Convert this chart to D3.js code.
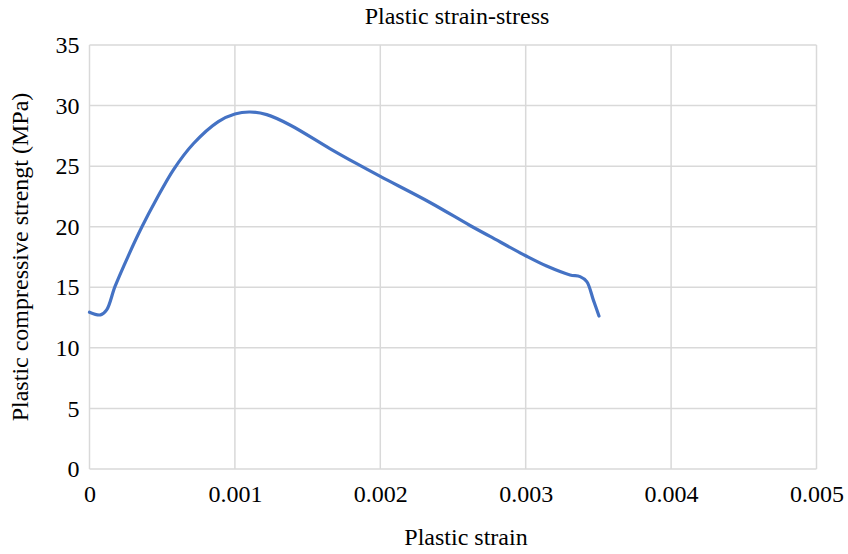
<!DOCTYPE html>
<html><head><meta charset="utf-8">
<script src="https://cdn.jsdelivr.net/npm/d3@7"></script>
<style>body{margin:0;background:#fff}svg{display:block}text{font-family:"Liberation Serif","Times New Roman",serif;fill:#000}</style>
</head><body><svg id="c" width="848" height="554"></svg>
<script>
const strain = [0, 0.0000756, 0.000118, 0.000175, 0.000267, 0.000359, 0.000462, 0.000577, 0.000714, 0.000886, 0.001, 0.001104, 0.001219, 0.001379, 0.001653, 0.001838, 0.002, 0.002342, 0.002617, 0.002755, 0.003, 0.003144, 0.003305, 0.003374, 0.00342, 0.003465, 0.003504];
const stress = [12.94, 12.72, 13.13, 15.05, 17.6, 19.95, 22.3, 24.7, 26.85, 28.68, 29.31, 29.47, 29.25, 28.4, 26.45, 25.2, 24.15, 22.0, 20.1, 19.2, 17.6, 16.75, 16.02, 15.88, 15.47, 13.96, 12.63];
const xTicks = [0, 0.001, 0.002, 0.003, 0.004, 0.005];
const xTickLabels = ["0", "0.001", "0.002", "0.003", "0.004", "0.005"];
const yTicks = [0, 5, 10, 15, 20, 25, 30, 35];
const title = "Plastic strain-stress";
const xTitle = "Plastic strain";
const yTitle = "Plastic compressive strengt (MPa)";

const svg = d3.select("#c");
const m = {l: 89.5, r: 31.5, t: 45, b: 85};
const W = 848, H = 554;
const x = d3.scaleLinear().domain([0, 0.005]).range([m.l, W - m.r]);
const y = d3.scaleLinear().domain([0, 35]).range([H - m.b, m.t]);
const fs = 24;

// grid
svg.append("g").selectAll("line").data(yTicks).join("line")
  .attr("x1", m.l).attr("x2", W - m.r).attr("y1", d => y(d)).attr("y2", d => y(d))
  .attr("stroke", "#d9d9d9").attr("stroke-width", 1.5);
svg.append("g").selectAll("line").data(xTicks).join("line")
  .attr("y1", m.t).attr("y2", H - m.b).attr("x1", d => x(d)).attr("x2", d => x(d))
  .attr("stroke", "#d9d9d9").attr("stroke-width", 1.5);

// axes labels
const yAxis = d3.axisLeft(y).tickValues(yTicks).tickSize(0).tickPadding(10);
const gy = svg.append("g").attr("transform", `translate(${m.l},0)`).call(yAxis);
gy.select(".domain").remove();
gy.selectAll("text").style("font-size", fs + "px").style("font-family", "Liberation Serif");

const xAxis = d3.axisBottom(x).tickValues(xTicks).tickFormat((d, i) => xTickLabels[i]).tickSize(0).tickPadding(16);
const gx = svg.append("g").attr("transform", `translate(0,${H - m.b})`).call(xAxis);
gx.select(".domain").remove();
gx.selectAll("text").style("font-size", fs + "px").style("font-family", "Liberation Serif");

// line
const pts = strain.map((s, i) => [s, stress[i]]);
svg.append("path").datum(pts)
  .attr("fill", "none").attr("stroke", "#4472C4").attr("stroke-width", 3.2)
  .attr("stroke-linejoin", "round").attr("stroke-linecap", "round")
  .attr("d", d3.line().x(d => x(d[0])).y(d => y(d[1])).curve(d3.curveCatmullRom.alpha(0.5)));

// titles
svg.append("text").attr("x", 457).attr("y", 24).attr("text-anchor", "middle")
  .style("font-size", fs + "px").text(title);
svg.append("text").attr("x", 466).attr("y", 545).attr("text-anchor", "middle")
  .style("font-size", fs + "px").text(xTitle);
svg.append("text").attr("transform", `translate(28,${(m.t + H - m.b) / 2}) rotate(-90)`)
  .attr("text-anchor", "middle").style("font-size", fs + "px").text(yTitle);
</script></body></html>
